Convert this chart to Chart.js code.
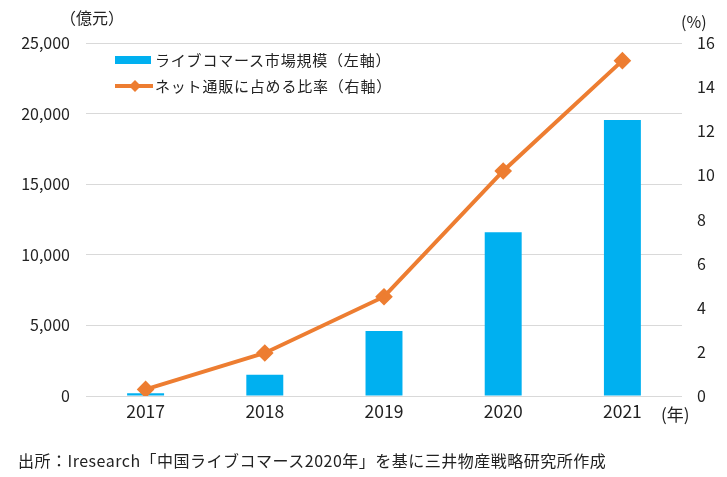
<!DOCTYPE html>
<html>
<head>
<meta charset="utf-8">
<script src="https://cdn.jsdelivr.net/npm/chart.js@4.4.1/dist/chart.umd.min.js"></script>
<style>
  html, body { margin: 0; padding: 0; background: #fff; }
  #wrap { position: relative; width: 727px; height: 477px; font-family: "Noto Sans CJK JP", "Noto Sans", sans-serif; color: #222; }
  canvas { position: absolute; left: 0; top: 0; }
  .lbl { position: absolute; white-space: nowrap; font-size: 16px; line-height: 1; }
  .leg { position: absolute; left: 115px; font-size: 15px; letter-spacing: 0.8px; line-height: 1; white-space: nowrap; display: flex; align-items: center; }
</style>
</head>
<body>
<div id="wrap">
  <canvas id="c" width="727" height="477"></canvas>
  <div class="lbl" style="left:60px; top:9px;">（億元）</div>
  <div class="lbl" style="left:681px; top:13px;">(%)</div>
  <div class="lbl" style="left:661px; top:405px; font-size:17px;">(年)</div>
  <div class="leg" style="top:52px;">
    <span style="display:inline-block;width:36px;height:8px;background:#00b0f0;margin-right:4px;"></span>ライブコマース市場規模（左軸）
  </div>
  <div class="leg" style="top:78px;">
    <svg width="38" height="14" style="margin-right:2px;"><line x1="0" y1="7" x2="38" y2="7" stroke="#ed7d31" stroke-width="4"/><polygon points="20,1 26,7 20,13 14,7" fill="#ed7d31"/></svg>ネット通販に占める比率（右軸）
  </div>
  <div class="lbl" style="left:18px; top:452px; font-size:16px; letter-spacing:0.5px;">出所：Iresearch「中国ライブコマース2020年」を基に三井物産戦略研究所作成</div>
</div>
<script>
const years = ['2017', '2018', '2019', '2020', '2021'];
const marketSize = [200, 1500, 4600, 11600, 19550];
const ecShare = [0.3, 1.95, 4.5, 10.2, 15.2];
const leftTicks = [0, 5000, 10000, 15000, 20000, 25000];
const rightTicks = [0, 2, 4, 6, 8, 10, 12, 14, 16];

const tickFont = { family: '"Noto Sans CJK JP", "Noto Sans", sans-serif', size: 16 };

new Chart(document.getElementById('c'), {
  data: {
    labels: years,
    datasets: [
      {
        type: 'line',
        label: 'ネット通販に占める比率（右軸）',
        data: ecShare,
        yAxisID: 'y1',
        borderColor: '#ed7d31',
        backgroundColor: '#ed7d31',
        borderWidth: 4,
        pointStyle: 'rectRot',
        pointRadius: 6,
        pointHoverRadius: 6,
        order: 0
      },
      {
        type: 'bar',
        label: 'ライブコマース市場規模（左軸）',
        data: marketSize,
        yAxisID: 'y',
        backgroundColor: '#00b0f0',
        barPercentage: 0.62,
        categoryPercentage: 0.5,
        order: 1
      }
    ]
  },
  options: {
    responsive: false,
    animation: false,
    layout: { padding: { top: 43, left: 0, right: 0, bottom: 0 } },
    plugins: { legend: { display: false }, tooltip: { enabled: false } },
    scales: {
      x: {
        grid: { display: false, drawTicks: false },
        border: { display: false },
        ticks: { color: '#222', font: { ...tickFont, size: 17.5 }, padding: 5 },
        afterFit: s => { s.height = 81; }
      },
      y: {
        position: 'left',
        min: 0, max: 25000,
        afterBuildTicks: s => { s.ticks = leftTicks.map(v => ({ value: v })); },
        grid: { color: '#d9d9d9', lineWidth: 1, drawTicks: false },
        border: { display: false },
        ticks: { color: '#222', font: tickFont, padding: 16, callback: v => v.toLocaleString('en-US') },
        afterFit: s => { s.width = 86; }
      },
      y1: {
        position: 'right',
        min: 0, max: 16,
        afterBuildTicks: s => { s.ticks = rightTicks.map(v => ({ value: v })); },
        grid: { display: false, drawTicks: false },
        border: { display: false },
        ticks: { color: '#222', font: tickFont, padding: 15 },
        afterFit: s => { s.width = 45; }
      }
    }
  }
});
</script>
</body>
</html>
